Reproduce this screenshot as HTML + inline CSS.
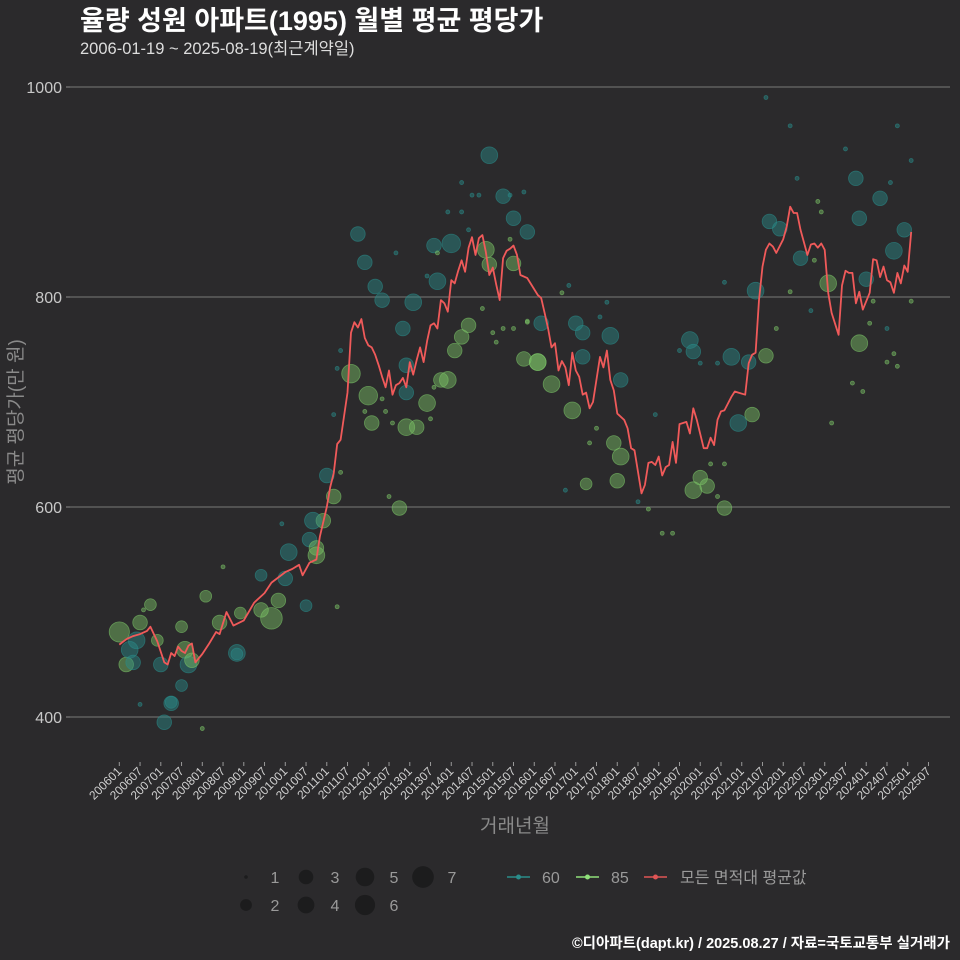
<!DOCTYPE html>
<html><head><meta charset="utf-8">
<style>
html,body{margin:0;padding:0;background:#2b2a2c;}
svg{display:block;font-family:"Liberation Sans","Noto Sans CJK KR",sans-serif;}
</style></head>
<body>
<svg id="chart" width="960" height="960" viewBox="0 0 960 960" xmlns="http://www.w3.org/2000/svg">
<rect x="0" y="0" width="960" height="960" fill="#2b2a2c"/>
<text x="80" y="30" font-size="27" font-weight="bold" fill="#ffffff">율량 성원 아파트(1995) 월별 평균 평당가</text>
<text x="80" y="54" font-size="16.5" fill="#dddddd">2006-01-19 ~ 2025-08-19(최근계약일)</text>
<g id="grid"></g>
<g id="yaxis"></g>
<g id="xaxis"></g>
<g id="bubbles"></g>
<g id="line"></g>
<text x="22" y="412" font-size="19" fill="#8a8a8a" text-anchor="middle" transform="rotate(-90 22 412)">평균 평당가(만 원)</text>
<text x="515" y="832" font-size="19" fill="#8a8a8a" text-anchor="middle">거래년월</text>
<g id="legend"></g>
<text x="950" y="948" font-size="14.5" font-weight="bold" fill="#ffffff" text-anchor="end">©디아파트(dapt.kr) / 2025.08.27 / 자료=국토교통부 실거래가</text>
</svg>
<script>
const yTicks = [400, 600, 800, 1000];
const xTickLabels = ["200601","200607","200701","200707","200801","200807","200901","200907","201001","201007","201101","201107","201201","201207","201301","201307","201401","201407","201501","201507","201601","201607","201701","201707","201801","201807","201901","201907","202001","202007","202101","202107","202201","202207","202301","202307","202401","202407","202501","202507"];
const lineM = [0,2,4,6,8,9,11,13,14,15,16,17,18,19,20,21,22,24,26,28,29,31,33,36,39,42,44,46,48,50,52,53,55,57,58,60,61,62,63,64,66,67,68,69,70,71,72,73,74,75,76,77,78,79,80,81,82,83,84,85,86,87,88,89,90,91,92,93,94,95,96,97,98,99,100,101,102,103,104,105,106,107,108,109,110,111,112,113,114,115,116,118,121,122,123,124,125,126,127,128,129,130,131,132,133,134,135,136,137,139,140,141,142,143,144,146,147,148,149,151,152,153,154,155,156,157,158,159,160,161,162,163,164,165,166,167,169,170,171,172,173,174,175,177,178,179,181,182,183,184,185,186,187,188,189,190,192,193,194,195,196,197,199,200,201,202,203,204,205,206,208,209,210,211,212,213,214,215,217,218,219,220,221,222,223,224,225,226,227,228,229];
const lineV = [469,474,477,479,482,486,472,452,450,461,458,467,463,461,468,470,452,460,470,481,479,500,487,492,509,518,528,533,538,541,545,535,547,550,572,600,619,632,660,664,709,766,776,771,779,761,754,752,745,735,724,714,730,707,716,718,723,714,738,726,740,752,738,758,773,775,770,797,794,786,816,813,825,835,824,847,857,840,856,859,843,821,828,812,797,837,844,846,849,840,821,818,802,799,785,770,752,756,730,739,733,716,747,730,724,707,709,694,700,743,733,749,721,711,689,683,675,656,654,613,621,642,643,640,648,630,638,640,662,642,679,680,681,670,694,683,656,656,666,659,683,691,692,705,710,709,707,737,745,747,797,829,845,851,848,842,855,867,886,880,880,864,840,850,851,847,851,845,804,785,764,811,825,823,823,794,805,788,804,836,835,819,829,816,814,804,823,813,830,824,862];
const bM = [0,2,3,5,4,6,9,7,11,12,15,18,18,19,20,21,25,29,34,35,41,41,44,46,48,49,55,54,57,57,59,56,62,60,67,72,73,81,69,71,74,76,82,83,83,86,89,85,91,92,95,96,97,99,101,107,111,114,114,118,121,125,122,132,134,134,131,135,142,145,143,145,144,165,166,166,168,170,175,177,179,182,183,184,187,188,191,197,205,214,216,213,214,220,224,227,187,194,225,210,196,202,203,223,229,201,194,200,190,218,217,222,224,222,225,212,215,206,229,175,157,160,155,153,150,129,136,138,173,175,171,168,173,162,141,139,130,128,118,30,6,24,13,15,34,47,63,78,64,62,64,63,80,89,95,99,99,102,104,113,117,101,105,108,111,114,109,118,113,91,90,76,79,71,77,92,83,93,106,107,117,121];
const bV = [481,450,464,473,452,490,507,502,473,450,414,430,486,464,450,454,515,490,460,499,502,535,494,511,532,557,569,506,554,561,587,587,610,630,727,706,680,599,860,833,810,797,770,735,676,676,699,795,849,815,721,851,749,762,773,935,896,875,832,862,738,717,775,775,766,743,692,622,763,721,661,648,625,759,748,616,628,620,599,743,680,738,688,806,744,872,865,837,813,756,817,913,875,894,844,864,990,963,963,941,913,891,881,909,930,835,805,787,770,796,775,770,746,738,734,718,710,680,796,814,575,575,688,598,605,616,661,675,610,641,641,737,737,749,795,781,811,804,777,543,412,389,395,413,461,584,505,610,633,688,749,732,842,820,881,881,909,897,897,897,900,864,789,766,770,770,757,776,855,714,684,703,680,691,691,842,709,721,845,831,741,738];
const bN = [6,3,4,4,3,3,2,1,2,3,2,2,2,4,4,3,2,3,2,2,3,2,7,3,3,4,3,2,4,3,3,4,3,3,5,5,3,3,3,3,3,3,3,3,4,3,4,4,3,4,4,5,3,3,3,4,3,3,3,3,4,4,3,3,3,3,4,2,4,3,3,4,3,4,3,4,3,3,3,4,4,3,3,4,3,3,3,3,4,4,3,3,3,3,4,3,1,1,1,1,1,1,1,1,1,1,1,1,1,1,1,1,1,1,1,1,1,1,1,1,1,1,1,1,1,1,1,1,1,1,1,1,1,1,1,1,1,1,1,1,1,1,3,3,4,1,1,1,1,1,1,1,1,1,1,1,1,1,1,1,1,1,1,1,1,1,1,1,1,1,1,1,1,1,1,1,3,3,4,3,3,4];
const bT = ["G","G","T","T","T","G","G","G","G","T","T","T","G","G","T","G","G","G","T","G","G","T","G","G","T","T","T","T","G","G","G","T","G","T","G","G","G","G","T","T","T","T","T","T","G","G","G","T","T","T","G","T","G","G","G","T","T","T","G","T","G","G","T","T","T","T","G","G","T","T","G","G","G","T","T","G","G","G","G","T","T","T","G","T","G","T","T","T","G","G","T","T","T","T","T","T","T","T","T","T","T","G","G","T","T","G","G","T","G","G","G","T","G","G","G","G","G","G","G","T","G","G","T","G","T","T","G","G","G","G","G","T","T","T","T","T","T","G","G","G","T","G","T","T","T","T","G","G","G","T","T","T","T","T","T","T","T","T","T","T","T","T","G","G","G","G","G","G","G","G","G","G","G","G","G","G","T","G","G","G","G","G","G"];

const NS = "http://www.w3.org/2000/svg";
const X0 = 119.3, XSTEP = 3.458, Y1000 = 87, YPX = 1.05;
function xs(m){ return X0 + m * XSTEP; }
function ys(v){ return Y1000 + (1000 - v) * YPX; }
function rs(n){ return n <= 1 ? 2 : 2.5 + 3.4 * Math.sqrt(n - 1); }
function mk(tag, attrs, parent){
  const el = document.createElementNS(NS, tag);
  for (const k in attrs) el.setAttribute(k, attrs[k]);
  parent.appendChild(el);
  return el;
}
const grid = document.getElementById('grid');
const yaxis = document.getElementById('yaxis');
yTicks.forEach(v => {
  const g = mk('line', {x1:70, x2:950, y1:ys(v), y2:ys(v), stroke:'#6a6a6a', 'stroke-width':1.2}, grid);
  
  
  const tk = mk('line', {x1:66, x2:70, y1:ys(v), y2:ys(v), stroke:'#888', 'stroke-width':1}, yaxis);
  
  
  const t = mk('text', {x:62, y:ys(v) + 6, 'font-size':16, fill:'#c8c8c8', 'text-anchor':'end'}, yaxis);
  t.textContent = v;
  
  
});
const xaxis = document.getElementById('xaxis');
xTickLabels.forEach((lab, i) => {
  const x = xs(i * 6);
  const tk = mk('line', {x1:x, x2:x, y1:762, y2:766, stroke:'#999', 'stroke-width':1}, xaxis);
  
  
  const t = mk('text', {x:x + 3, y:772, 'font-size':12, fill:'#d0d0d0', 'text-anchor':'end', transform:'rotate(-45 ' + (x + 3) + ' 772)'}, xaxis);
  t.textContent = lab;
  
  
});
const bub = document.getElementById('bubbles');
bM.forEach((m, i) => {
  const col = bT[i] === 'T' ? '#2a8c8a' : '#7cc467';
  const c = mk('circle', {cx:xs(m), cy:ys(bV[i]), r:rs(bN[i]), fill:col, 'fill-opacity':0.45, stroke:col, 'stroke-opacity':0.6, 'stroke-width':0.8}, bub);
  
  
});
const lineG = document.getElementById('line');
const pts = lineM.map((m, i) => xs(m).toFixed(1) + ',' + ys(lineV[i]).toFixed(1)).join(' ');
const pl = mk('polyline', {points:pts, fill:'none', stroke:'#f05a5a', 'stroke-width':1.8, 'stroke-linejoin':'round'}, lineG);



const legend = document.getElementById('legend');
const sizeItems = [[1,246,877],[3,306,877],[5,365,877],[7,423,877],[2,246,905],[4,306,905],[6,365,905]];
sizeItems.forEach(s => {
  const c = mk('circle', {cx:s[1], cy:s[2], r:s[0] === 1 ? 1.8 : rs(s[0]), fill:'#1c1c1d'}, legend);
  
  
  const t = mk('text', {x:s[1] + 29, y:s[2] + 6, 'font-size':16, fill:'#9a9a9a', 'text-anchor':'middle'}, legend);
  t.textContent = s[0];
  
  
});
const lineItems = [['60','#2a8c8a',507,542],['85','#8fe07a',576,611],['모든 면적대 평균값','#e05555',644,680]];
lineItems.forEach(li => {
  const l = mk('line', {x1:li[2], x2:li[2] + 23, y1:877, y2:877, stroke:li[1], 'stroke-width':1.6}, legend);
  
  
  const d = mk('circle', {cx:li[2] + 11.5, cy:877, r:2.5, fill:li[1]}, legend);
  
  
  const t = mk('text', {x:li[3], y:883, 'font-size':16, fill:'#9a9a9a'}, legend);
  t.textContent = li[0];
  
  
});
</script>
</body></html>
